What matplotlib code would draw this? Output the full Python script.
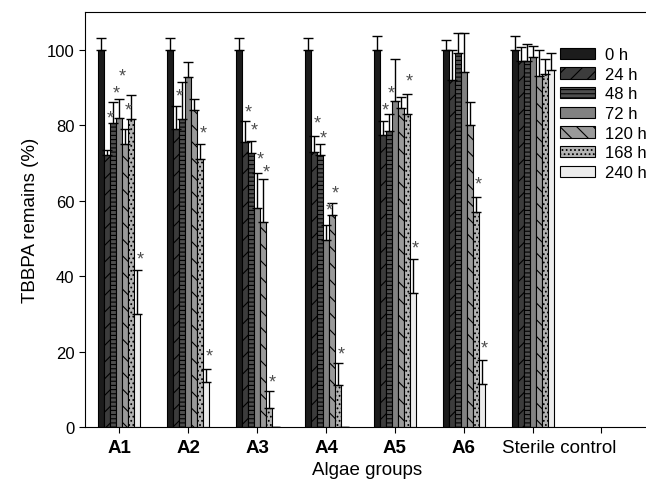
import numpy as np
import matplotlib
matplotlib.use("Agg")
import matplotlib.pyplot as plt

plt.rcParams['font.family'] = ['Liberation Sans', 'DejaVu Sans']
plt.rcParams['hatch.linewidth'] = 0.8

groups = ["A1", "A2", "A3", "A4", "A5", "A6", "Sterile control", ""]
times = ["0 h", "24 h", "48 h", "72 h", "120 h", "168 h", "240 h"]

# remains (%) per time point, one value per group
h0 = [100, 100, 100, 100, 100, 100, 100]
h24 = [72, 79, 75.4, 72.8, 77.5, 92, 97]
h48 = [80.5, 81.5, 72.7, 72, 78.5, 99, 97]
h72 = [82, 92.8, 58, 49.5, 86.5, 94, 98]
h120 = [75, 84, 54.2, 56.3, 84.5, 80, 93]
h168 = [81.5, 71, 5, 11, 83, 57, 93.6]
h240 = [30, 12, 0, 0, 35.5, 11.4, 94.5]

e0 = [3.2, 3.2, 3.2, 3.2, 3.7, 2.5, 3.7]
e24 = [1.5, 6, 5.6, 4.2, 3.5, 8, 3.6]
e48 = [5.5, 10, 3, 2.9, 4.5, 5.5, 4.6]
e72 = [4.8, 3.8, 9.4, 4, 11, 10.5, 3]
e120 = [4, 3, 11.4, 3, 3, 6, 6.8]
e168 = [6.5, 4, 4.5, 6, 5.2, 4, 3.8]
e240 = [11.5, 3.3, 0, 0, 9, 6.3, 4.7]

# significance stars: (group, time index, height)
stars = [(0, 1, 82), (0, 2, 88.5), (0, 3, 93), (0, 4, 84), (0, 6, 44.4),
         (1, 1, 87.6), (1, 5, 78), (1, 6, 18.8),
         (2, 1, 83.6), (2, 2, 78.6), (2, 3, 71), (2, 4, 67.7), (2, 5, 12),
         (3, 1, 80.5), (3, 2, 76.5), (3, 3, 57.6), (3, 4, 62), (3, 5, 19.3),
         (4, 1, 84), (4, 2, 88.6), (4, 5, 91.8), (4, 6, 47.4),
         (5, 5, 64.3), (5, 6, 21)]

values = [h0, h24, h48, h72, h120, h168, h240]
errors = [e0, e24, e48, e72, e120, e168, e240]
colors = ['#1c1c1c', '#3c3c3c', '#4e4e4e', '#828282', '#9a9a9a', '#b4b4b4', '#ececec']
hatches = [None, '//', '----', None, '\\\\', '....', None]

fig = plt.figure(figsize=(6.46, 4.81), dpi=100)
ax = fig.add_axes([0.1316, 0.1102, 0.872, 0.863])

x = np.arange(len(h0))
w = 0.0873
for i in range(len(times)):
    xi = x + (i - 3) * w
    ax.bar(xi, values[i], w, color=colors[i], edgecolor='black', linewidth=0.8,
           hatch=hatches[i], label=times[i], zorder=2)
    ax.errorbar(xi, values[i], yerr=[np.zeros(len(x)), errors[i]], fmt='none',
                ecolor='black', elinewidth=1, capsize=3.5, capthick=1, zorder=3)

for g, i, yv in stars:
    ax.text(g + (i - 3) * w + 0.04, yv, '*', ha='center', va='center',
            fontsize=13, color='#4d4d4d', zorder=4)

ax.set_xlim(-0.5, 7.68)
ax.set_ylim(0, 110)
ax.set_yticks([0, 20, 40, 60, 80, 100])
ax.set_xticks(np.arange(len(groups)))
# the "Sterile control" label sits a bit right of its tick, drawn separately
ax.set_xticklabels(groups[:6] + ["", ""], fontweight='bold')
ax.annotate(groups[6], xy=(6, 0), xycoords=('data', 'axes fraction'),
            xytext=(19, -8.5), textcoords='offset points', ha='center', va='top',
            fontsize=13.5)
ax.tick_params(axis='y', direction='out', length=4, labelsize=12)
ax.tick_params(axis='x', direction='out', length=4, labelsize=13.5, pad=5)
ax.set_ylabel("TBBPA remains (%)", fontsize=13.5, labelpad=6)
ax.set_xlabel("Algae groups", fontsize=13.5, labelpad=3)

ax.legend(loc='upper left', bbox_to_anchor=(0.867, 0.9), bbox_transform=fig.transFigure,
          frameon=False, fontsize=12, borderpad=0, borderaxespad=0,
          handlelength=2.1, handleheight=0.66, labelspacing=0.28, handletextpad=0.6)

fig.savefig("out.png", dpi=100)
